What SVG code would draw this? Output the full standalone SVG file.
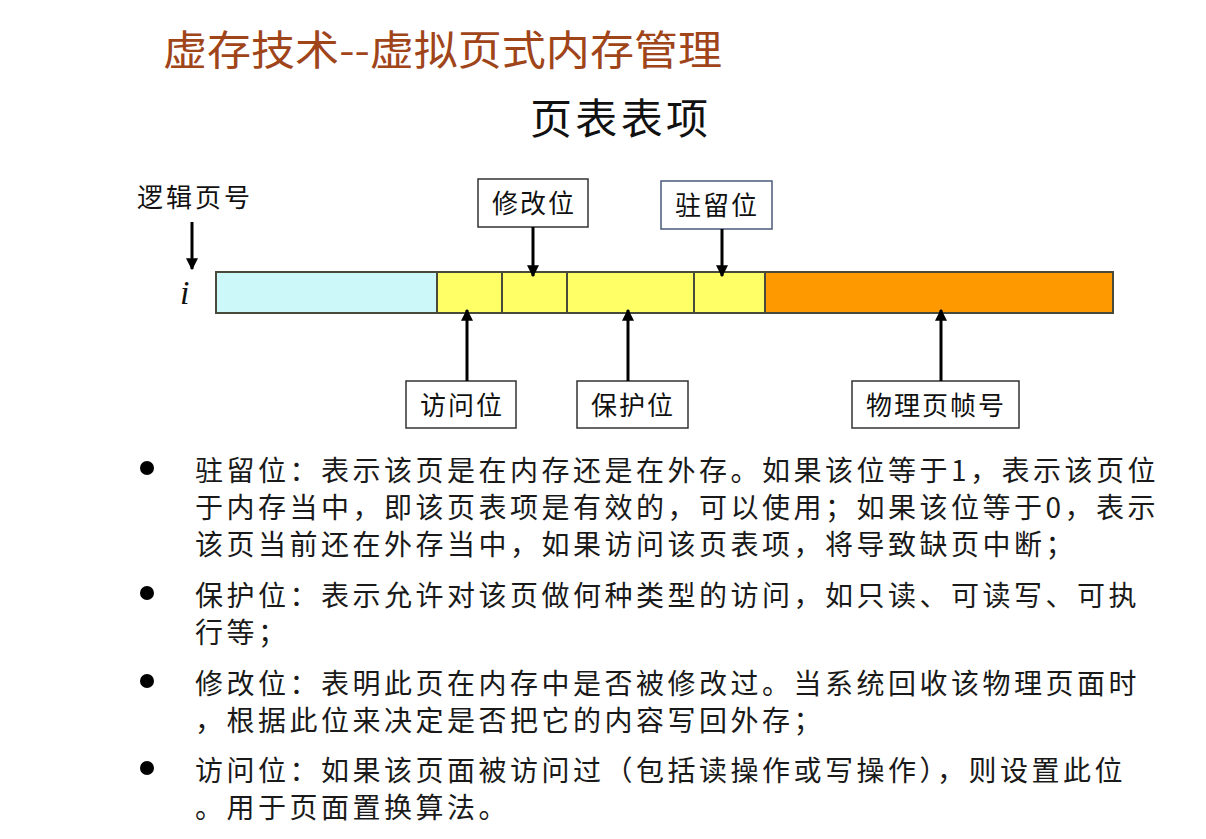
<svg xmlns="http://www.w3.org/2000/svg" width="1206" height="839" viewBox="0 0 1206 839">
<style>
.cjk{font-family:"Noto Sans CJK SC","Noto Sans",sans-serif;}
.title{font-size:41px;fill:#a0441a;}
.sub{font-size:42px;fill:#111;}
.lbl{font-size:26px;fill:#111;letter-spacing:2px;}
.body{font-size:28px;fill:#1a1a1a;letter-spacing:3.5px;}
.box{fill:#fff;stroke:#333;stroke-width:1.5;}
.seg{stroke:#4a4a3a;stroke-width:2;}
.conn line{stroke:#000;stroke-width:3;}
</style>
<defs>
<marker id="ah" viewBox="0 0 10 10" refX="9" refY="5" markerWidth="4" markerHeight="4" orient="auto" markerUnits="strokeWidth">
<path d="M0,0 L10,5 L0,10 z" fill="#000"/>
</marker>
</defs>
<rect width="1206" height="839" fill="#fff"/>

<g id="title">
<text class="cjk title" x="163" y="65" textLength="559" lengthAdjust="spacingAndGlyphs">虚存技术--虚拟页式内存管理</text>
</g>
<g id="subtitle">
<text class="cjk sub" x="530" y="134" textLength="178" lengthAdjust="spacing">页表表项</text>
</g>

<g id="bar">
<rect class="seg" x="216" y="272" width="221" height="41" fill="#ccf8fa"/>
<rect class="seg" x="437" y="272" width="65" height="41" fill="#ffff66"/>
<rect class="seg" x="502" y="272" width="65" height="41" fill="#ffff66"/>
<rect class="seg" x="567" y="272" width="127" height="41" fill="#ffff66"/>
<rect class="seg" x="694" y="272" width="71" height="41" fill="#ffff66"/>
<rect class="seg" x="765" y="272" width="348" height="41" fill="#ff9900"/>
</g>

<g id="logical-page">
<text class="cjk lbl" x="137" y="207" style="letter-spacing:3px">逻辑页号</text>
<text x="180" y="304" font-family="Liberation Serif, serif" font-style="italic" font-size="34" fill="#111">i</text>
</g>

<g id="modify-bit">
<rect class="box" x="478" y="179" width="110" height="48"/>
<text class="cjk lbl" x="534" y="213" text-anchor="middle">修改位</text>
</g>
<g id="resident-bit">
<rect class="box" x="661" y="181" width="111" height="48" style="stroke:#4a5a7a"/>
<text class="cjk lbl" x="717" y="215" text-anchor="middle">驻留位</text>
</g>
<g id="access-bit">
<rect class="box" x="406" y="381" width="110" height="47"/>
<text class="cjk lbl" x="462" y="415" text-anchor="middle">访问位</text>
</g>
<g id="protect-bit">
<rect class="box" x="577" y="381" width="111" height="47"/>
<text class="cjk lbl" x="633" y="415" text-anchor="middle">保护位</text>
</g>
<g id="frame-number">
<rect class="box" x="852" y="381" width="167" height="47"/>
<text class="cjk lbl" x="936" y="415" text-anchor="middle">物理页帧号</text>
</g>

<g id="connectors" class="conn">
<line x1="192" y1="222" x2="192" y2="269" marker-end="url(#ah)"/>
<line x1="533" y1="227" x2="533" y2="276" marker-end="url(#ah)"/>
<line x1="722" y1="229" x2="722" y2="276" marker-end="url(#ah)"/>
<line x1="467" y1="381" x2="467" y2="310" marker-end="url(#ah)"/>
<line x1="628" y1="381" x2="628" y2="310" marker-end="url(#ah)"/>
<line x1="941" y1="381" x2="941" y2="310" marker-end="url(#ah)"/>
</g>

<g id="notes">
<circle cx="147" cy="468" r="7" fill="#000"/>
<circle cx="147" cy="593" r="7" fill="#000"/>
<circle cx="147" cy="681" r="7" fill="#000"/>
<circle cx="147" cy="768" r="7" fill="#000"/>
<text class="cjk body" x="195" y="481">驻留位：表示该页是在内存还是在外存。如果该位等于1，表示该页位</text>
<text class="cjk body" x="195" y="518">于内存当中，即该页表项是有效的，可以使用；如果该位等于0，表示</text>
<text class="cjk body" x="195" y="555">该页当前还在外存当中，如果访问该页表项，将导致缺页中断；</text>
<text class="cjk body" x="195" y="606">保护位：表示允许对该页做何种类型的访问，如只读、可读写、可执</text>
<text class="cjk body" x="195" y="643">行等；</text>
<text class="cjk body" x="195" y="694">修改位：表明此页在内存中是否被修改过。当系统回收该物理页面时</text>
<text class="cjk body" x="195" y="731">，根据此位来决定是否把它的内容写回外存；</text>
<text class="cjk body" x="195" y="781">访问位：如果该页面被访问过（包括读操作或写操作），则设置此位</text>
<text class="cjk body" x="195" y="818">。用于页面置换算法。</text>
</g>
</svg>
